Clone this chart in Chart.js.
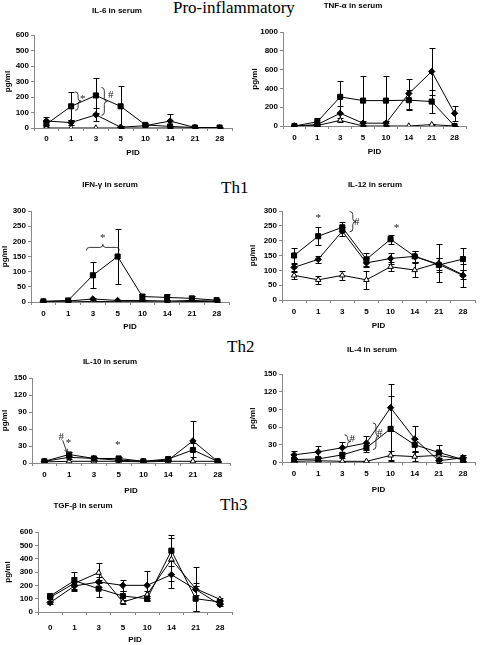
<!DOCTYPE html>
<html>
<head>
<meta charset="utf-8">
<script src="https://cdn.jsdelivr.net/npm/chart.js@4.4.1/dist/chart.umd.min.js"></script>
<style>
  body { margin: 0; width: 480px; height: 645px; background: #fff; position: relative; overflow: hidden; }
  canvas { position: absolute; }
  .sec { position: absolute; font-family: "Liberation Serif", "Times New Roman", serif; font-size: 17px; line-height: 17px; color: #000; white-space: nowrap; }
</style>
</head>
<body>
<div class="sec" style="left:173px;top:-1px">Pro-inflammatory</div>
<div class="sec" style="left:221px;top:179px">Th1</div>
<div class="sec" style="left:227px;top:338px">Th2</div>
<div class="sec" style="left:220px;top:496px">Th3</div>
<script>
// post-infection day (category axis)
const pid = ["0", "1", "3", "5", "10", "14", "21", "28"];

// IL-6
const il6Sq = [25, 140, 210, 140, 20, 10, 3, 3];
const il6SqErr = [20, 90, 115, 130, 10, 5, 3, 3];
const il6Di = [45, 35, 85, 5, 15, 45, 3, 0];
const il6DiErr = [25, 15, 42, 5, 5, 45, 2, 0];
const il6Tr = [0, 0, 0, 0, 0, 0, 0, 0];
const il6TrErr = [0, 0, 0, 0, 0, 0, 0, 0];
const il6Y = [600, 100];

// TNF-a
const tnfSq = [0, 45, 310, 270, 270, 275, 260, 0];
const tnfSqErr = [5, 40, 170, 265, 265, 108, 120, 5];
const tnfDi = [0, 15, 135, 30, 30, 345, 580, 135];
const tnfDiErr = [3, 10, 80, 20, 20, 160, 245, 80];
const tnfTr = [0, 5, 60, 0, 0, 0, 15, 0];
const tnfTrErr = [0, 3, 20, 0, 0, 0, 5, 0];
const tnfY = [1000, 200];

// IFN-g
const ifnSq = [2, 5, 88, 150, 18, 15, 12, 6];
const ifnSqErr = [2, 3, 43, 90, 8, 10, 8, 3];
const ifnDi = [2, 3, 10, 5, 5, 3, 5, 3];
const ifnDiErr = [1, 2, 4, 2, 2, 2, 2, 2];
const ifnTr = [0, 0, 2, 1, 1, 0, 2, 1];
const ifnTrErr = [0, 0, 0, 0, 0, 0, 0, 0];
const ifnY = [300, 50];

// IL-12
const il12Sq = [150, 215, 245, 137, 205, 147, 118, 138];
const il12SqErr = [25, 30, 17, 22, 15, 18, 25, 38];
const il12Di = [110, 137, 232, 125, 140, 147, 120, 83];
const il12DiErr = [12, 12, 15, 15, 17, 18, 20, 40];
const il12Tr = [83, 68, 83, 68, 112, 101, 125, 85];
const il12TrErr = [12, 13, 15, 30, 15, 25, 65, 15];
const il12Y = [300, 50];

// IL-10
const il10Sq = [3, 15, 8, 8, 3, 7, 23, 3];
const il10SqErr = [1, 4, 2, 2, 1, 2, 12, 1];
const il10Di = [3, 10, 8, 5, 3, 5, 39, 3];
const il10DiErr = [1, 3, 2, 2, 1, 2, 35, 1];
const il10Tr = [2, 3, 3, 3, 2, 3, 3, 3];
const il10TrErr = [0, 0, 0, 0, 0, 0, 0, 0];
const il10Y = [150, 30];

// IL-4
const il4Sq = [5, 6, 13, 25, 57, 30, 17, 5];
const il4SqErr = [2, 3, 5, 8, 55, 10, 12, 4];
const il4Di = [13, 18, 25, 33, 93, 40, 3, 8];
const il4DiErr = [6, 10, 10, 12, 40, 22, 3, 5];
const il4Tr = [2, 3, 2, 2, 12, 10, 12, 5];
const il4TrErr = [1, 1, 1, 1, 8, 8, 5, 3];
const il4Y = [150, 30];

// TGF-b
const tgfSq = [120, 235, 175, 120, 100, 460, 100, 75];
const tgfSqErr = [10, 65, 65, 40, 20, 115, 95, 15];
const tgfDi = [70, 195, 225, 200, 200, 280, 170, 55];
const tgfDiErr = [10, 40, 40, 40, 110, 100, 165, 10];
const tgfTr = [110, 215, 295, 75, 130, 395, 175, 95];
const tgfTrErr = [10, 50, 75, 15, 25, 160, 45, 10];
const tgfY = [600, 100];

// significance marks: [category index, value, text]
const il6Notes = [[1.47, 185, "*"], [2.6, 215, "#"]];
const il6Braces = [[1.16, 233, 114], [2.22, 261, 82]];
const ifnNotes = [[2.4, 212, "*"]];
const ifnHBraces = [[1.74, 3.07, 180]];
const il12Notes = [[1, 275, "*"], [2.6, 264, "#"], [4.25, 243, "*"]];
const il12Braces = [[2.31, 298, 230]];
const il10Notes = [[0.68, 46, "#"], [0.97, 35, "*"], [2.96, 32, "*"]];
const il10Arrows = [[0.74, 40, 0.92, 18]];
const il4Notes = [[2.41, 40, "#"], [3.55, 49, "#"]];
const il4Braces = [[2.09, 47, 24], [3.27, 67, 22]];

Chart.defaults.font.family = '"Liberation Sans", Arial, sans-serif';
Chart.defaults.font.size = 8;
Chart.defaults.font.weight = "bold";
Chart.defaults.color = "#000";

function braceV(ctx, x, y1, y2) {
  const w = 3, m = (y1 + y2) / 2;
  ctx.beginPath();
  ctx.moveTo(x, y1);
  ctx.quadraticCurveTo(x + w, y1, x + w, y1 + w);
  ctx.lineTo(x + w, m - w);
  ctx.quadraticCurveTo(x + w, m, x + 2 * w, m);
  ctx.quadraticCurveTo(x + w, m, x + w, m + w);
  ctx.lineTo(x + w, y2 - w);
  ctx.quadraticCurveTo(x + w, y2, x, y2);
  ctx.stroke();
}

function braceH(ctx, x1, x2, y) {
  const w = 3, m = (x1 + x2) / 2;
  ctx.beginPath();
  ctx.moveTo(x1, y + w);
  ctx.quadraticCurveTo(x1, y, x1 + w, y);
  ctx.lineTo(m - w, y);
  ctx.quadraticCurveTo(m, y, m, y - w);
  ctx.quadraticCurveTo(m, y, m + w, y);
  ctx.lineTo(x2 - w, y);
  ctx.quadraticCurveTo(x2, y, x2, y + w);
  ctx.stroke();
}

function panel(p) {
  const cv = document.createElement("canvas");
  cv.width = p.w;
  cv.height = p.h;
  cv.style.left = p.l + "px";
  cv.style.top = p.t + "px";
  document.body.appendChild(cv);

  const [aL, aT, aR, aB] = p.area;
  const lh = 9.6;

  const marks = {
    id: "marks",
    beforeDatasetsDraw(chart) {
      const ctx = chart.ctx, ys = chart.scales.y;
      ctx.save();
      ctx.strokeStyle = "#000";
      ctx.lineWidth = 1;
      chart.data.datasets.forEach((ds, i) => {
        const meta = chart.getDatasetMeta(i);
        ds.err.forEach((e, j) => {
          if (!e) return;
          const x = Math.round(meta.data[j].x) + 0.5;
          const y1 = Math.round(ys.getPixelForValue(ds.data[j] + e)) + 0.5;
          const y2 = Math.round(ys.getPixelForValue(Math.max(ds.data[j] - e, 0))) + 0.5;
          ctx.beginPath();
          ctx.moveTo(x, y1); ctx.lineTo(x, y2);
          ctx.moveTo(x - 3, y1); ctx.lineTo(x + 3, y1);
          ctx.moveTo(x - 3, y2); ctx.lineTo(x + 3, y2);
          ctx.stroke();
        });
      });
      ctx.restore();
    },
    afterDraw(chart) {
      const ctx = chart.ctx, xs = chart.scales.x, ys = chart.scales.y;
      ctx.save();
      ctx.fillStyle = "#000";
      ctx.font = 'bold 8px "Liberation Sans", Arial, sans-serif';
      ctx.textAlign = "center";
      ctx.textBaseline = "middle";
      ctx.fillText(p.title, p.tx - p.l, p.ty - p.t);

      ctx.strokeStyle = "#222";
      ctx.fillStyle = "#222";
      ctx.lineWidth = 0.9;
      ctx.font = '11px "Liberation Serif", serif';
      (p.notes || []).forEach(([i, v, s]) => {
        ctx.fillText(s, xs.getPixelForValue(i), ys.getPixelForValue(v));
      });
      (p.braces || []).forEach(([i, v1, v2]) => {
        braceV(ctx, xs.getPixelForValue(i), ys.getPixelForValue(v1), ys.getPixelForValue(v2));
      });
      (p.hbraces || []).forEach(([i1, i2, v]) => {
        braceH(ctx, xs.getPixelForValue(i1), xs.getPixelForValue(i2), ys.getPixelForValue(v));
      });
      (p.arrows || []).forEach(([i1, v1, i2, v2]) => {
        const x1 = xs.getPixelForValue(i1), y1 = ys.getPixelForValue(v1);
        const x2 = xs.getPixelForValue(i2), y2 = ys.getPixelForValue(v2);
        const a = Math.atan2(y2 - y1, x2 - x1);
        ctx.beginPath();
        ctx.moveTo(x1, y1); ctx.lineTo(x2, y2);
        ctx.moveTo(x2, y2); ctx.lineTo(x2 - 4 * Math.cos(a - 0.4), y2 - 4 * Math.sin(a - 0.4));
        ctx.moveTo(x2, y2); ctx.lineTo(x2 - 4 * Math.cos(a + 0.4), y2 - 4 * Math.sin(a + 0.4));
        ctx.stroke();
      });
      ctx.restore();
    },
  };

  const line = { borderColor: "#000", borderWidth: 1, tension: 0, pointBorderColor: "#000", pointBorderWidth: 1, pointRadius: 3.2 };

  new Chart(cv, {
    type: "line",
    data: {
      labels: pid,
      datasets: [
        { ...line, data: p.sq, err: p.sqErr, pointStyle: "rect", pointRadius: 3.6, pointBackgroundColor: "#000" },
        { ...line, data: p.di, err: p.diErr, pointStyle: "rectRot", pointBackgroundColor: "#000" },
        { ...line, data: p.tr, err: p.trErr, pointStyle: "triangle", pointBackgroundColor: "#fff" },
      ],
    },
    options: {
      responsive: false,
      animation: false,
      devicePixelRatio: 1,
      layout: { padding: { left: 0, top: aT - p.t, right: p.l + p.w - aR, bottom: 0 } },
      plugins: { legend: { display: false }, tooltip: { enabled: false } },
      scales: {
        x: {
          offset: true,
          grid: { offset: true, drawOnChartArea: false, tickLength: 3, color: "#888" },
          border: { color: "#888" },
          ticks: { autoSkip: false, maxRotation: 0, padding: p.labY - aB - 7 },
          title: { display: true, text: "PID", padding: { top: 0, bottom: Math.max(p.t + p.h - p.pid - lh / 2, 0) } },
          afterFit(s) { s.height = p.t + p.h - aB; },
        },
        y: {
          min: 0,
          max: p.y[0],
          grid: { drawOnChartArea: false, tickLength: 3, color: "#888" },
          border: { color: "#888" },
          ticks: { stepSize: p.y[1], padding: 2, callback: (v) => String(v) },
          title: { display: true, text: "pg/ml", padding: { top: Math.max(p.pgx - p.l - lh / 2, 0), bottom: 0 } },
          afterFit(s) { s.width = aL - p.l; },
        },
      },
    },
    plugins: [marks],
  });
}

panel({ l: 0, t: 0, w: 240, h: 162, area: [34, 35, 232, 128], title: "IL-6 in serum", tx: 117, ty: 11, pid: 153, pgx: 8, labY: 138,
  sq: il6Sq, sqErr: il6SqErr, di: il6Di, diErr: il6DiErr, tr: il6Tr, trErr: il6TrErr, y: il6Y, notes: il6Notes, braces: il6Braces });
panel({ l: 240, t: 0, w: 240, h: 162, area: [283, 32, 466, 126], title: "TNF-α in serum", tx: 353, ty: 6, pid: 152, pgx: 255, labY: 137,
  sq: tnfSq, sqErr: tnfSqErr, di: tnfDi, diErr: tnfDiErr, tr: tnfTr, trErr: tnfTrErr, y: tnfY });
panel({ l: 0, t: 162, w: 240, h: 172, area: [31, 211, 229, 302], title: "IFN-γ in serum", tx: 110, ty: 185, pid: 327, pgx: 5, labY: 313,
  sq: ifnSq, sqErr: ifnSqErr, di: ifnDi, diErr: ifnDiErr, tr: ifnTr, trErr: ifnTrErr, y: ifnY, notes: ifnNotes, hbraces: ifnHBraces });
panel({ l: 240, t: 162, w: 240, h: 172, area: [282, 211, 478, 300], title: "IL-12 in serum", tx: 375, ty: 185, pid: 326, pgx: 253, labY: 311,
  sq: il12Sq, sqErr: il12SqErr, di: il12Di, diErr: il12DiErr, tr: il12Tr, trErr: il12TrErr, y: il12Y, notes: il12Notes, braces: il12Braces });
panel({ l: 0, t: 334, w: 240, h: 164, area: [32, 378, 230, 463], title: "IL-10 in serum", tx: 110, ty: 362, pid: 491, pgx: 5, labY: 474,
  sq: il10Sq, sqErr: il10SqErr, di: il10Di, diErr: il10DiErr, tr: il10Tr, trErr: il10TrErr, y: il10Y, notes: il10Notes, arrows: il10Arrows });
panel({ l: 240, t: 334, w: 240, h: 164, area: [282, 374, 478, 462.5], title: "IL-4 in serum", tx: 372, ty: 350, pid: 490, pgx: 253, labY: 473,
  sq: il4Sq, sqErr: il4SqErr, di: il4Di, diErr: il4DiErr, tr: il4Tr, trErr: il4TrErr, y: il4Y, notes: il4Notes, braces: il4Braces });
panel({ l: 0, t: 498, w: 240, h: 147, area: [38, 532, 232, 612], title: "TGF-β in serum", tx: 83, ty: 506, pid: 641, pgx: 8, labY: 627,
  sq: tgfSq, sqErr: tgfSqErr, di: tgfDi, diErr: tgfDiErr, tr: tgfTr, trErr: tgfTrErr, y: tgfY });
</script>
</body>
</html>
